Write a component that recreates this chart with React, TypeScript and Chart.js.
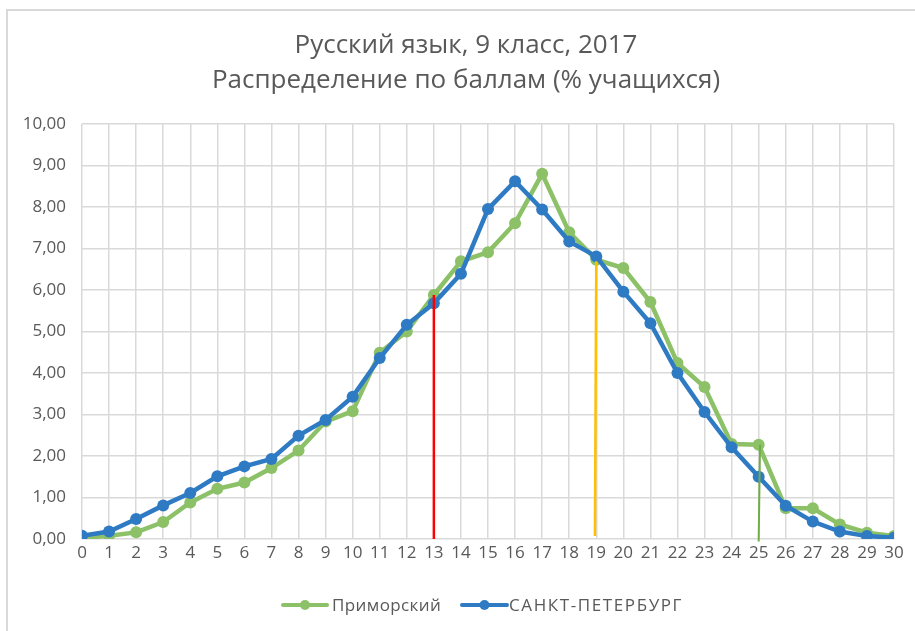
import React, { useEffect, useRef } from "react";
import { Chart, registerables } from "chart.js";

Chart.register(...registerables);

const scores = Array.from({ length: 31 }, (_, i) => i);
const primorsky = [0.02, 0.08, 0.16, 0.41, 0.88, 1.21, 1.36, 1.71, 2.13, 2.83, 3.08, 4.49, 5.0, 5.88, 6.69, 6.91, 7.61, 8.8, 7.39, 6.73, 6.53, 5.71, 4.24, 3.66, 2.29, 2.27, 0.74, 0.74, 0.35, 0.15, 0.07];
const spb = [0.08, 0.18, 0.48, 0.81, 1.11, 1.51, 1.75, 1.93, 2.49, 2.87, 3.43, 4.36, 5.16, 5.68, 6.39, 7.95, 8.62, 7.94, 7.17, 6.81, 5.96, 5.2, 4.0, 3.06, 2.21, 1.5, 0.8, 0.42, 0.18, 0.07, 0.03];
const redMarker = [{ x: 13, y: 0 }, { x: 13, y: 5.88 }];
const orangeMarker = [{ x: 18.95, y: 0.07 }, { x: 19, y: 6.69 }];
const greenMarker = [{ x: 25, y: -0.06 }, { x: 25.05, y: 2.27 }];
const titleLines = ["Русский язык, 9 класс, 2017", "Распределение по баллам (% учащихся)"];
const seriesNames = ["Приморский", "САНКТ-ПЕТЕРБУРГ"];

const GREEN = "#8CC168";
const BLUE = "#2E7BC4";
const FONT = "'Open Sans', 'Noto Sans', sans-serif";

const decorPlugin = {
  id: "decor",
  beforeDraw(chart: any) {
    const ctx = chart.ctx;
    ctx.save();
    ctx.fillStyle = "#ffffff";
    ctx.fillRect(0, 0, chart.width, chart.height);
    ctx.strokeStyle = "#D9D9D9";
    ctx.lineWidth = 2;
    ctx.beginPath();
    ctx.moveTo(7, chart.height + 2);
    ctx.lineTo(7, 10);
    ctx.lineTo(chart.width + 2, 10);
    ctx.stroke();
    ctx.restore();
  },
  afterDraw(chart: any) {
    const ctx = chart.ctx;
    ctx.save();
    ctx.fillStyle = "#595959";
    ctx.textAlign = "center";
    ctx.textBaseline = "alphabetic";
    ctx.font = `26px ${FONT}`;
    ctx.fillText(titleLines[0], 466, 53);
    ctx.fillText(titleLines[1], 466, 88);
    // legend
    const items = [
      { color: GREEN, x0: 283, x1: 327, text: seriesNames[0], tx: 332, ls: "0.4px" },
      { color: BLUE, x0: 462, x1: 507, text: seriesNames[1], tx: 509, ls: "1.6px" },
    ];
    const ly = 605;
    ctx.font = `17px ${FONT}`;
    ctx.textAlign = "left";
    ctx.textBaseline = "middle";
    for (const it of items) {
      ctx.strokeStyle = it.color;
      ctx.lineWidth = 4;
      ctx.lineCap = "round";
      ctx.beginPath();
      ctx.moveTo(it.x0, ly);
      ctx.lineTo(it.x1, ly);
      ctx.stroke();
      ctx.fillStyle = it.color;
      ctx.beginPath();
      ctx.arc((it.x0 + it.x1) / 2, ly, 5, 0, Math.PI * 2);
      ctx.fill();
      ctx.fillStyle = "#595959";
      (ctx as any).letterSpacing = it.ls;
      ctx.fillText(it.text, it.tx, ly + 1);
      (ctx as any).letterSpacing = "0px";
    }
    ctx.restore();
  },
};

export default function App() {
  const ref = useRef<HTMLCanvasElement>(null);
  useEffect(() => {
    if (!ref.current) return;
    const chart = new Chart(ref.current, {
      type: "line",
      data: {
        datasets: [
          {
            label: "red",
            data: redMarker,
            borderColor: "#FF0000",
            borderWidth: 2.5,
            pointRadius: 0,
            order: 0,
          },
          {
            label: "orange",
            data: orangeMarker,
            borderColor: "#FFC000",
            borderWidth: 2.5,
            pointRadius: 0,
            order: 0,
          },
          {
            label: "green",
            data: greenMarker,
            borderColor: "#70AD47",
            borderWidth: 2,
            pointRadius: 0,
            order: 0,
            clip: false as any,
          },
          {
            label: seriesNames[1],
            data: scores.map((s, i) => ({ x: s, y: spb[i] })),
            borderColor: BLUE,
            backgroundColor: BLUE,
            borderWidth: 4.5,
            pointRadius: 6,
            pointBorderWidth: 0,
            order: 1,
          },
          {
            label: seriesNames[0],
            data: scores.map((s, i) => ({ x: s, y: primorsky[i] })),
            borderColor: GREEN,
            backgroundColor: GREEN,
            borderWidth: 4.5,
            pointRadius: 6,
            pointBorderWidth: 0,
            order: 2,
          },
        ],
      },
      options: {
        animation: false,
        responsive: false,
        layout: { padding: { top: 124, left: 0, right: 21, bottom: 0 } },
        plugins: {
          legend: { display: false },
          title: { display: false },
          tooltip: { enabled: false },
        },
        scales: {
          x: {
            type: "linear",
            min: 0,
            max: 30,
            afterFit: (s: any) => { s.height = 92; },
            afterBuildTicks: (s: any) => { s.ticks = scores.map((v) => ({ value: v })); },
            grid: { color: "#D9D9D9", lineWidth: 1.5, drawTicks: false },
            border: { display: false },
            ticks: {
              color: "#595959",
              font: { family: FONT, size: 17 },
              padding: 4,
              maxRotation: 0,
              autoSkip: false,
              callback: (v: any) => String(v),
            },
          },
          y: {
            min: 0,
            max: 10,
            afterFit: (s: any) => { s.width = 82; },
            grid: { color: "#D9D9D9", lineWidth: 1.5, drawTicks: false },
            border: { display: false },
            ticks: {
              stepSize: 1,
              color: "#595959",
              font: { family: FONT, size: 17 },
              padding: 16,
              callback: (v: any) => Number(v).toFixed(2).replace(".", ","),
            },
          },
        },
      },
      plugins: [decorPlugin],
    });
    return () => chart.destroy();
  }, []);
  return (
    <div style={{ position: "absolute", left: 0, top: 0, width: 915, height: 631, overflow: "hidden" }}>
      <canvas ref={ref} width={915} height={631} style={{ display: "block" }} />
    </div>
  );
}
